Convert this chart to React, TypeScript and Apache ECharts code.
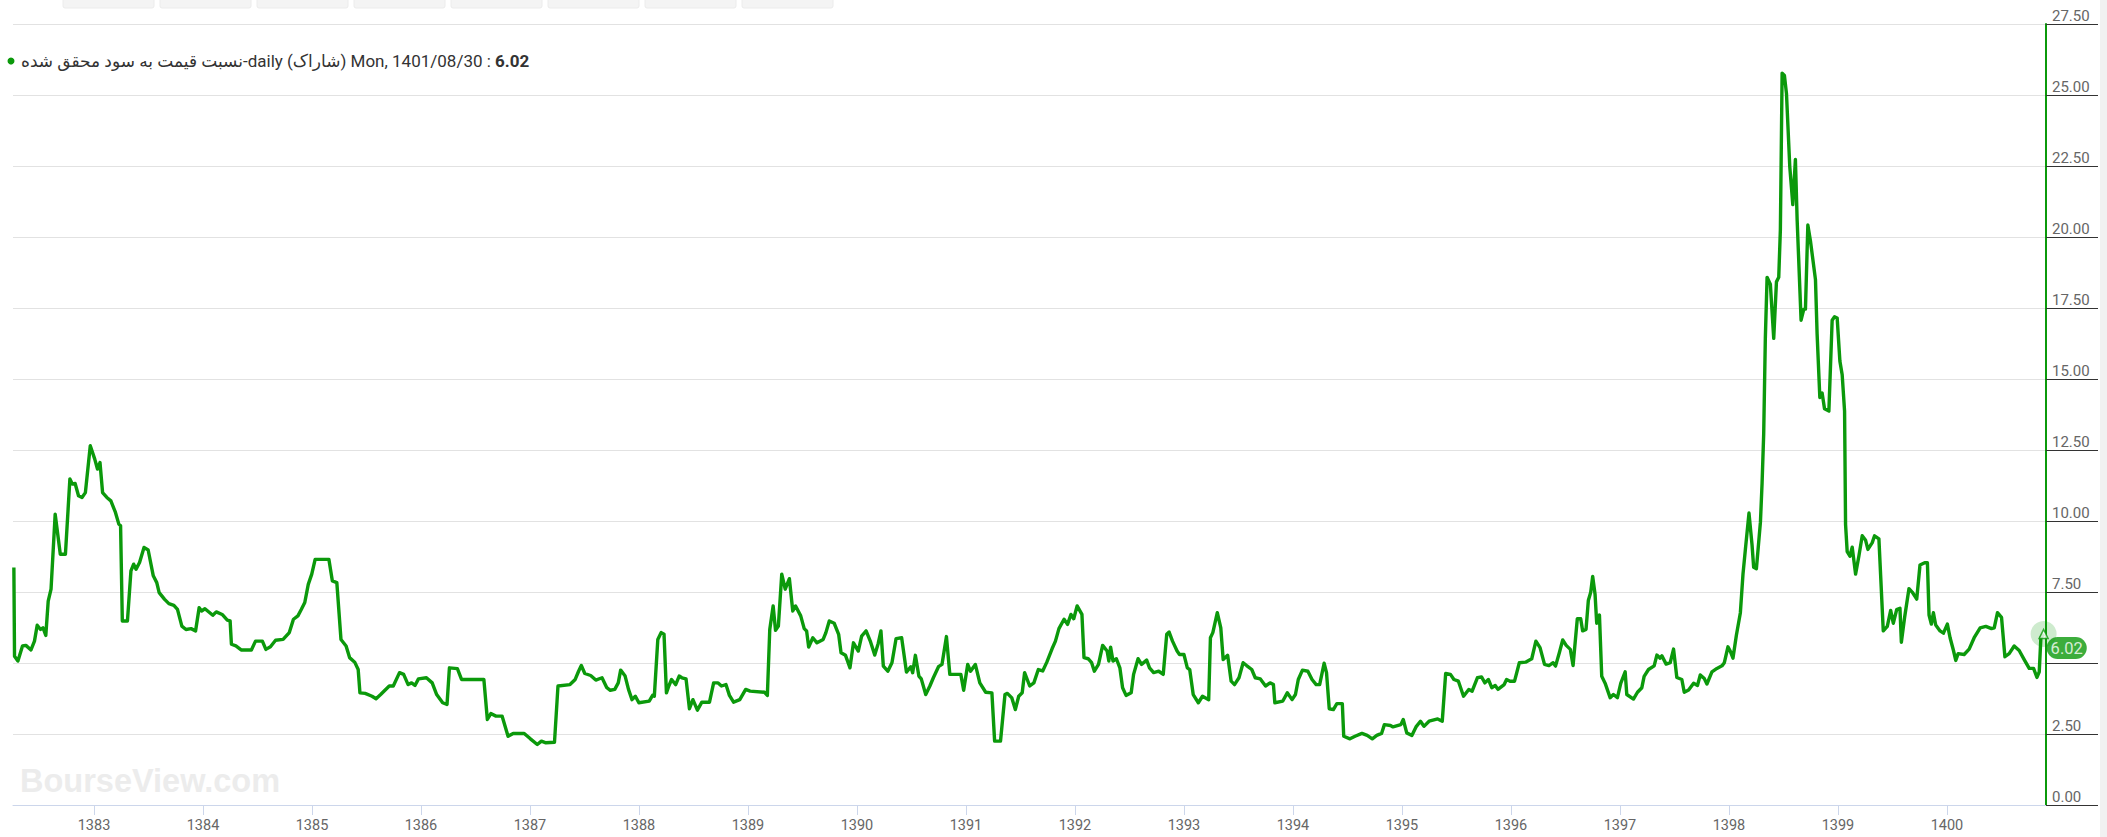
import React, { useEffect, useRef } from "react";
import * as echarts from "echarts";

// Persian (Solar Hijri) dates as fractional years
const dates: number[] = [
  1382.265, 1382.271, 1382.302, 1382.344, 1382.375, 1382.422, 1382.454, 1382.479, 1382.51, 1382.532,
  1382.558, 1382.58, 1382.606, 1382.644, 1382.691, 1382.738, 1382.779, 1382.801, 1382.827, 1382.858,
  1382.89, 1382.921, 1382.966, 1383.007, 1383.032, 1383.055, 1383.079, 1383.118, 1383.155, 1383.197,
  1383.228, 1383.244, 1383.26, 1383.307, 1383.339, 1383.364, 1383.386, 1383.418, 1383.459, 1383.497,
  1383.544, 1383.576, 1383.598, 1383.648, 1383.687, 1383.733, 1383.766, 1383.806, 1383.844, 1383.891,
  1383.932, 1383.965, 1383.987, 1384.018, 1384.09, 1384.122, 1384.176, 1384.223, 1384.249, 1384.261,
  1384.302, 1384.35, 1384.444, 1384.482, 1384.545, 1384.577, 1384.619, 1384.666, 1384.735, 1384.792,
  1384.83, 1384.871, 1384.903, 1384.934, 1384.966, 1384.998, 1385.029, 1385.155, 1385.187, 1385.228,
  1385.266, 1385.313, 1385.345, 1385.392, 1385.424, 1385.44, 1385.488, 1385.551, 1385.588, 1385.63,
  1385.709, 1385.746, 1385.803, 1385.841, 1385.882, 1385.914, 1385.945, 1385.977, 1386.05, 1386.103,
  1386.144, 1386.199, 1386.239, 1386.261, 1386.334, 1386.372, 1386.577, 1386.609, 1386.641, 1386.688,
  1386.744, 1386.799, 1386.846, 1386.947,
  1387.004, 1387.067, 1387.105, 1387.146, 1387.225, 1387.257, 1387.367, 1387.415, 1387.446, 1387.471,
  1387.503, 1387.557, 1387.604, 1387.661, 1387.705, 1387.737, 1387.778, 1387.81, 1387.832, 1387.873,
  1387.904, 1387.936, 1387.967, 1387.999, 1388.094, 1388.125, 1388.141, 1388.173, 1388.204, 1388.23,
  1388.252, 1388.274, 1388.299, 1388.337, 1388.369, 1388.394, 1388.432, 1388.463, 1388.495, 1388.536,
  1388.577, 1388.647, 1388.685, 1388.726, 1388.757, 1388.798, 1388.83, 1388.868, 1388.925, 1388.979,
  1389.02, 1389.152, 1389.178, 1389.2, 1389.231, 1389.253, 1389.279, 1389.31, 1389.342, 1389.38,
  1389.411, 1389.437, 1389.484, 1389.516, 1389.538, 1389.557, 1389.595, 1389.633, 1389.69, 1389.715,
  1389.746, 1389.791, 1389.832, 1389.854, 1389.895, 1389.936, 1389.968, 1390.012, 1390.043, 1390.084,
  1390.125, 1390.163, 1390.195, 1390.22, 1390.242, 1390.283, 1390.321, 1390.359, 1390.41, 1390.454,
  1390.495, 1390.511, 1390.536, 1390.568, 1390.59, 1390.631, 1390.669, 1390.701, 1390.748, 1390.78,
  1390.821, 1390.852, 1390.953, 1390.979, 1391.016, 1391.042, 1391.086, 1391.127, 1391.181, 1391.238,
  1391.263, 1391.317, 1391.358, 1391.38, 1391.421, 1391.453, 1391.484, 1391.516, 1391.538, 1391.585,
  1391.623, 1391.664,
  1391.704, 1391.742, 1391.79, 1391.821, 1391.853, 1391.9, 1391.932, 1391.963, 1391.989, 1392.02,
  1392.064, 1392.083, 1392.121, 1392.153, 1392.178, 1392.216, 1392.254, 1392.295, 1392.311, 1392.327,
  1392.349, 1392.38, 1392.412, 1392.437, 1392.469, 1392.516, 1392.538, 1392.579, 1392.611, 1392.658,
  1392.684, 1392.722, 1392.769, 1392.81, 1392.842, 1392.864, 1392.895, 1392.937, 1392.959, 1393.0,
  1393.031, 1393.053, 1393.085, 1393.132, 1393.17, 1393.227, 1393.243, 1393.265, 1393.306, 1393.338,
  1393.36, 1393.401, 1393.433, 1393.464, 1393.505, 1393.543, 1393.575, 1393.622, 1393.654, 1393.701,
  1393.749, 1393.79, 1393.821, 1393.834, 1393.907, 1393.948, 1393.992, 1394.023, 1394.049, 1394.087,
  1394.137, 1394.175, 1394.213, 1394.245, 1394.286, 1394.308, 1394.333, 1394.371, 1394.403, 1394.453,
  1394.466, 1394.523, 1394.57, 1394.633, 1394.681, 1394.728, 1394.769, 1394.813, 1394.839, 1394.895,
  1394.918, 1394.99, 1395.012, 1395.044, 1395.091, 1395.129, 1395.17, 1395.202, 1395.249, 1395.328,
  1395.37, 1395.401, 1395.445, 1395.477, 1395.518, 1395.565, 1395.613, 1395.644, 1395.692, 1395.73,
  1395.761, 1395.793, 1395.824, 1395.856, 1395.881, 1395.938, 1395.96, 1395.992, 1396.033, 1396.077,
  1396.134, 1396.191, 1396.229, 1396.267, 1396.308, 1396.349, 1396.387, 1396.409, 1396.444, 1396.475,
  1396.507, 1396.545, 1396.57,
  1396.609, 1396.64, 1396.658, 1396.689, 1396.71, 1396.732, 1396.75, 1396.772, 1396.787, 1396.812,
  1396.833, 1396.864, 1396.91, 1396.94, 1396.977, 1397.008, 1397.048, 1397.063, 1397.124, 1397.161,
  1397.201, 1397.222, 1397.262, 1397.314, 1397.339, 1397.369, 1397.385, 1397.424, 1397.461, 1397.492,
  1397.522, 1397.568, 1397.59, 1397.63, 1397.676, 1397.712, 1397.737, 1397.774, 1397.798, 1397.844,
  1397.89, 1397.936, 1397.958, 1397.991, 1398.013, 1398.037, 1398.068, 1398.105, 1398.129, 1398.151,
  1398.184, 1398.212, 1398.227, 1398.252, 1398.289, 1398.304, 1398.319, 1398.334, 1398.35, 1398.38,
  1398.411, 1398.436, 1398.457, 1398.472, 1398.488, 1398.509, 1398.528, 1398.558, 1398.586, 1398.61,
  1398.626, 1398.662, 1398.687, 1398.702, 1398.724, 1398.748, 1398.794, 1398.809, 1398.834, 1398.855,
  1398.877, 1398.917, 1398.947, 1398.969, 1398.993, 1399.018, 1399.039, 1399.061, 1399.07, 1399.085,
  1399.11, 1399.131, 1399.162, 1399.192, 1399.223, 1399.254, 1399.275, 1399.315, 1399.336, 1399.376,
  1399.416, 1399.453, 1399.484, 1399.508, 1399.539, 1399.569, 1399.582, 1399.612, 1399.652, 1399.683,
  1399.723, 1399.753, 1399.796, 1399.821, 1399.836, 1399.857, 1399.876, 1399.897, 1399.937, 1399.968,
  1400.004, 1400.029, 1400.06, 1400.081, 1400.103, 1400.158, 1400.204, 1400.25, 1400.305, 1400.357,
  1400.409, 1400.434, 1400.464, 1400.501, 1400.532, 1400.571, 1400.617, 1400.663, 1400.709, 1400.755,
  1400.795, 1400.826, 1400.847, 1400.862, 1400.887,
];

// P/E ratio values (نسبت قیمت به سود محقق شده)
const ratios: number[] = [
  8.36, 5.24, 5.07, 5.6, 5.62, 5.46, 5.77, 6.33, 6.18, 6.24,
  5.97, 7.18, 7.6, 10.24, 8.83, 8.83, 11.48, 11.3, 11.32, 10.89,
  10.83, 11.0, 12.65, 12.18, 11.83, 12.06, 11.0, 10.83, 10.71, 10.3,
  9.89, 9.83, 6.48, 6.48, 8.24, 8.48, 8.3, 8.54, 9.07, 8.98,
  8.07, 7.83, 7.48, 7.24, 7.09, 7.03, 6.89, 6.3, 6.18, 6.21,
  6.13, 6.95, 6.83, 6.91, 6.68, 6.8, 6.71, 6.51, 6.48, 5.66,
  5.6, 5.46, 5.46, 5.77, 5.77, 5.48, 5.57, 5.8, 5.83, 6.07,
  6.54, 6.66, 6.89, 7.13, 7.77, 8.13, 8.65, 8.65, 7.89, 7.83,
  5.83, 5.6, 5.19, 5.03, 4.77, 3.95, 3.93, 3.83, 3.74, 3.89,
  4.19, 4.19, 4.66, 4.6, 4.24, 4.3, 4.21, 4.44, 4.48, 4.3,
  3.89, 3.6, 3.54, 4.83, 4.8, 4.42, 4.42, 3.01, 3.22, 3.13,
  3.13, 2.42, 2.52, 2.52,
  2.33, 2.13, 2.25, 2.19, 2.21, 4.19, 4.24, 4.42, 4.71, 4.91,
  4.63, 4.56, 4.4, 4.48, 4.13, 4.04, 4.07, 4.3, 4.75, 4.54,
  4.07, 3.71, 3.83, 3.6, 3.66, 3.86, 3.83, 5.83, 6.07, 6.01,
  3.95, 4.19, 4.42, 4.24, 4.54, 4.48, 4.44, 3.39, 3.71, 3.34,
  3.62, 3.62, 4.3, 4.3, 4.19, 4.24, 3.86, 3.62, 3.71, 4.07,
  4.01, 3.97, 3.86, 6.18, 7.01, 6.15, 6.3, 8.13, 7.6, 7.97,
  6.83, 7.01, 6.66, 6.21, 6.13, 5.56, 5.89, 5.71, 5.83, 6.07,
  6.48, 6.4, 6.01, 5.36, 5.27, 4.83, 5.71, 5.42, 5.95, 6.13,
  5.74, 5.28, 5.69, 6.13, 4.89, 4.71, 5.01, 5.86, 5.89, 4.68,
  4.87, 4.66, 5.27, 4.54, 4.44, 3.89, 4.19, 4.48, 4.87, 4.95,
  5.93, 4.6, 4.6, 4.04, 4.95, 4.71, 4.95, 4.3, 3.97, 3.95,
  2.25, 2.25, 3.89, 3.93, 3.77, 3.36, 3.83, 3.95, 4.66, 4.19,
  4.3, 4.77,
  4.72, 5.03, 5.5, 5.77, 6.21, 6.54, 6.36, 6.71, 6.56, 7.01,
  6.71, 5.19, 5.15, 5.01, 4.71, 4.95, 5.62, 5.42, 5.07, 5.56,
  5.07, 5.15, 4.83, 4.13, 3.86, 3.95, 4.6, 5.15, 4.95, 5.1,
  4.83, 4.66, 4.71, 4.6, 6.01, 6.09, 5.77, 5.42, 5.3, 5.3,
  4.83, 4.77, 3.89, 3.6, 3.83, 3.71, 5.89, 6.07, 6.77, 6.24,
  5.12, 5.27, 4.36, 4.24, 4.48, 5.01, 4.91, 4.77, 4.48, 4.44,
  4.19, 4.3, 4.24, 3.6, 3.66, 3.95, 3.71, 3.89, 4.42, 4.75,
  4.71, 4.42, 4.24, 4.24, 4.99, 4.66, 3.39, 3.36, 3.57, 3.57,
  2.42, 2.33, 2.42, 2.52, 2.45, 2.33, 2.45, 2.52, 2.83, 2.8,
  2.75, 2.83, 3.01, 2.54, 2.45, 2.75, 2.95, 2.77, 2.95, 3.03,
  2.95, 4.63, 4.6, 4.42, 4.36, 3.83, 4.07, 4.01, 4.48, 4.51,
  4.3, 4.42, 4.13, 4.21, 4.07, 4.24, 4.42, 4.36, 4.36, 5.01,
  5.03, 5.15, 5.77, 5.54, 4.95, 4.91, 5.01, 4.89, 5.36, 5.81,
  5.62, 5.48, 4.91,
  6.56, 6.56, 6.13, 6.18, 7.2, 7.49, 8.05, 7.41, 6.4, 6.69,
  4.53, 4.29, 3.78, 3.89, 3.78, 4.29, 4.69, 3.89, 3.73, 3.97,
  4.13, 4.53, 4.77, 4.9, 5.28, 5.17, 5.25, 4.96, 5.01, 5.49,
  4.49, 4.42, 3.97, 4.05, 4.29, 4.21, 4.58, 4.45, 4.26, 4.69,
  4.81, 4.9, 5.01, 5.57, 5.41, 5.17, 5.97, 6.77, 8.13, 9.0,
  10.28, 9.16, 8.37, 8.32, 9.96, 11.32, 13.07, 16.43, 18.58, 18.34,
  16.43, 18.42, 18.58, 20.26, 25.77, 25.69, 25.05, 22.49, 21.14, 22.73,
  20.58, 17.07, 17.46, 17.46, 20.42, 19.86, 18.5, 16.59, 14.35, 14.51,
  13.95, 13.87, 17.07, 17.19, 17.15, 15.63, 15.15, 13.87, 9.88, 8.92,
  8.76, 9.08, 8.13, 8.76, 9.48, 9.32, 9.0, 9.24, 9.48, 9.37,
  6.13, 6.29, 6.85, 6.4, 6.88, 6.93, 5.73, 6.61, 7.62, 7.49,
  7.25, 8.45, 8.53, 8.53, 6.69, 6.37, 6.77, 6.34, 6.13, 6.05,
  6.37, 5.89, 5.44, 5.09, 5.33, 5.3, 5.49, 5.89, 6.24, 6.29,
  6.21, 6.24, 6.77, 6.61, 5.22, 5.33, 5.6, 5.44, 5.12, 4.81,
  4.81, 4.49, 4.69, 5.89, 6.02,
];

const yearTicks: number[] = [
  1383, 1384, 1385, 1386, 1387, 1388, 1389, 1390, 1391, 1392,
  1393, 1394, 1395, 1396, 1397, 1398, 1399, 1400,
];

// value label hidden behind the last-value badge in the reference
const hiddenYLabels: number[] = [5];

const seriesTitle = "نسبت قیمت به سود محقق شده-daily (شاراک)";
const lastDateLabel = "Mon, 1401/08/30";

const GREEN = "#0b990b";

export default function App() {
  const ref = useRef<HTMLDivElement>(null);

  useEffect(() => {
    document.body.style.margin = "0";
    if (!ref.current) return;
    const chart = echarts.init(ref.current, null, { renderer: "svg" });
    const data = dates.map((d, i) => [d, ratios[i]]);
    const last = data[data.length - 1];
    const lastVal = ratios[ratios.length - 1];

    const buttons: any[] = [];
    for (let i = 0; i < 8; i++) {
      buttons.push({
        type: "rect",
        shape: { x: 63 + i * 97, y: -4, width: 91, height: 12, r: 2 },
        style: { fill: "#f4f4f4", stroke: "#ececec", lineWidth: 1 },
        silent: true,
      });
    }

    chart.setOption({
      animation: false,
      backgroundColor: "#ffffff",
      grid: { left: 13, right: 61, top: 24, bottom: 32, containLabel: false },
      xAxis: {
        type: "value",
        min: 1382.257,
        max: 1400.909,
        axisLine: { show: true, lineStyle: { color: "#ccd6eb", width: 1 } },
        axisTick: {
          show: true,
          length: 10,
          lineStyle: { color: "#ccd6eb" },
          customValues: yearTicks,
        },
        axisLabel: {
          customValues: yearTicks,
          formatter: (v: number) => String(Math.round(v)),
          color: "#666666",
          fontSize: 14.5,
          fontFamily: "Roboto, Arial, sans-serif",
          margin: 13,
        },
        splitLine: { show: false },
      },
      yAxis: {
        type: "value",
        position: "right",
        min: 0,
        max: 27.5,
        interval: 2.5,
        axisLine: { show: true, lineStyle: { color: GREEN, width: 2 } },
        axisTick: { show: true, length: 52, lineStyle: { color: "#333333", width: 1 } },
        axisLabel: {
          formatter: (v: number) => (hiddenYLabels.indexOf(v) >= 0 ? "" : v.toFixed(2)),
          color: "#666666",
          fontSize: 15,
          fontFamily: "Roboto, Arial, sans-serif",
          align: "left",
          verticalAlign: "bottom",
          margin: 6,
          padding: [0, 0, 1, 0],
        },
        splitLine: { show: true, lineStyle: { color: "#e2e2e2", width: 1 } },
      },
      graphic: [
        ...buttons,
        {
          type: "text",
          left: 20,
          top: 764,
          silent: true,
          z: -1,
          style: {
            text: "BourseView.com",
            fill: "#ececec",
            font: "bold 32.5px Arial, 'Liberation Sans', sans-serif",
          },
        },
        {
          type: "circle",
          shape: { cx: 11, cy: 61, r: 3.5 },
          style: { fill: GREEN },
          silent: true,
        },
        {
          type: "text",
          x: 21,
          y: 61,
          silent: true,
          style: {
            text: `{a|${seriesTitle} ${lastDateLabel} : }{b|${lastVal.toFixed(2)}}`,
            verticalAlign: "middle",
            rich: {
              a: { fill: "#333333", fontSize: 17, fontFamily: "Roboto, 'DejaVu Sans', sans-serif" },
              b: { fill: "#333333", fontSize: 17, fontWeight: "bold", fontFamily: "Roboto, sans-serif" },
            },
          },
        },
        {
          type: "rect",
          shape: { x: 2100, y: 0, width: 7, height: 837 },
          style: { fill: "#f1f1f1" },
          silent: true,
        },
      ],
      series: [
        {
          type: "line",
          data,
          showSymbol: false,
          symbol: "none",
          lineStyle: { color: GREEN, width: 3.4, join: "round" },
          itemStyle: { color: GREEN },
          z: 3,
        },
        {
          type: "scatter",
          data: [last],
          symbol: "circle",
          symbolSize: 26,
          itemStyle: { color: "rgba(11,153,11,0.25)" },
          z: 4,
          label: {
            show: true,
            formatter: () => lastVal.toFixed(2),
            position: [16, 27],
            align: "left",
            verticalAlign: "middle",
            color: "#ffffff",
            fontSize: 16.5,
            fontFamily: "Roboto, sans-serif",
            backgroundColor: GREEN,
            borderRadius: 12,
            padding: [3, 4, 2, 4],
          },
        },
        {
          type: "scatter",
          data: [last],
          symbol: "triangle",
          symbolSize: 9,
          itemStyle: { color: "#ffffff", borderColor: GREEN, borderWidth: 1.5 },
          z: 5,
        },
      ],
    });
    return () => chart.dispose();
  }, []);

  return (
    <div
      ref={ref}
      style={{ position: "absolute", left: 0, top: 0, width: 2107, height: 837 }}
    />
  );
}
